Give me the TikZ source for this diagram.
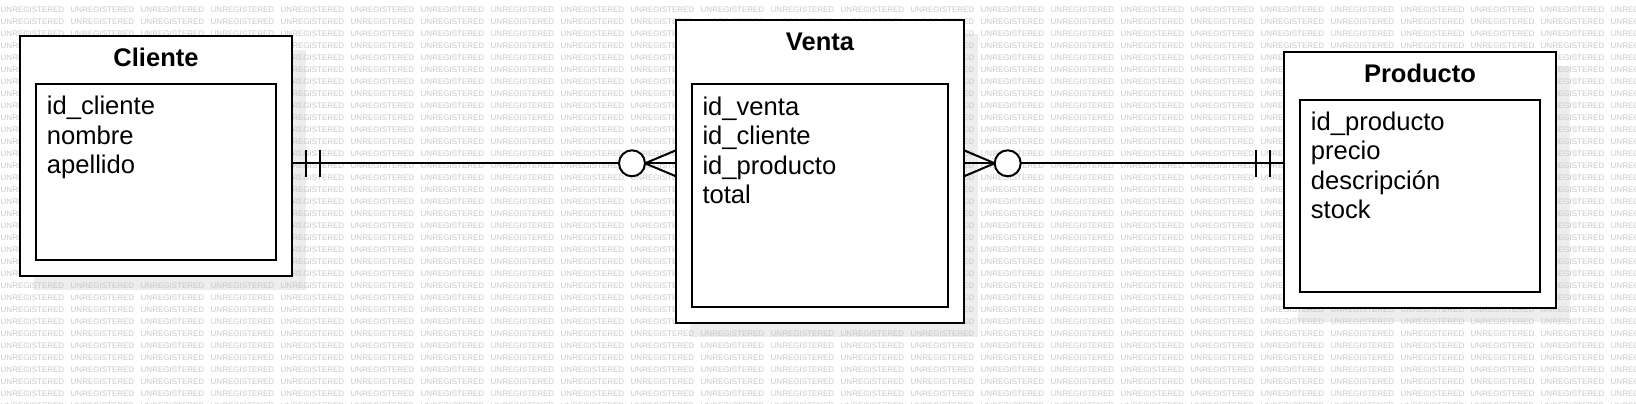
\documentclass[tikz,border=0pt]{standalone}
\usepackage{fontspec}
\setmainfont{Liberation Sans}
\usetikzlibrary{positioning,calc,backgrounds}

\tikzset{
  entity/.style={draw, line width=2pt, fill=white, inner sep=0pt, outer sep=0pt},
  fieldbox/.style={draw, line width=2pt, fill=white, inner sep=0pt, outer sep=0pt},
  entname/.style={font=\fontsize{25.5}{29.5}\selectfont\bfseries, inner sep=0pt},
  fields/.style={font=\fontsize{25.6}{29.5}\selectfont, align=left, anchor=north west, inner sep=0pt},
  optional/.style={circle, draw, line width=2pt, fill=white, minimum size=26pt, inner sep=0pt, outer sep=0pt},
  link/.style={line width=2pt},
  boxshadow/.style={fill=black!7, draw=none},
  wmark/.style={font=\fontsize{8}{8}\selectfont, text=black!22, inner sep=0pt, anchor=west},
}

\begin{document}
\begin{tikzpicture}[x=1pt, y=-1pt]
      \useasboundingbox (0,0) rectangle (1636,404);
      %
      \node[entity, minimum width=272pt, minimum height=240pt] (cliente) at (156,156) {};      % entities
      \node[entity, minimum width=288pt, minimum height=303pt] (venta) at (820,171.5) {};
      \node[entity, minimum width=272pt, minimum height=255.4pt] (producto) at (1420,180) {};
      %
      \node[fieldbox, minimum width=240pt, minimum height=176pt] (cliente-in) at (156,172) {};   % inner boxes
      \node[fieldbox, minimum width=256pt, minimum height=223pt] (venta-in) at (820,195.5) {};
      \node[fieldbox, minimum width=240pt, minimum height=191.7pt] (producto-in) at (1420,195.8) {};
      %
      \node[entname] (cliente-name) at (156,57.7) {Cliente};                 % titles
      \node[entname] (venta-name) at (820,42.3) {Venta};
      \node[entname] (producto-name) at (1420,73.3) {Producto};
      %
      \node[fields] (cliente-fields) at (46.7,96) {id\_cliente\\nombre\\apellido};   % fields
      \node[fields] (venta-fields) at (702.3,96.5) {id\_venta\\id\_cliente\\id\_producto\\total};
      \node[fields] (producto-fields) at (1310.7,111.5) {id\_producto\\precio\\descripción\\stock};
      %
      \coordinate (row) at (0,163.3);                                         % link height
      %
      \draw[link] (cliente.east |- row) -- (venta.west |- row);               % cliente -- venta
      \draw[link] ($(cliente.east |- row)+(13.7,-13.5)$) -- ++(0,27);
      \draw[link] ($(cliente.east |- row)+(28,-13.5)$) -- ++(0,27);
      \node[optional] (cv-zero) at ($(venta.west |- row)+(-44,0)$) {};
      \draw[link] (cv-zero.east) -- ($(venta.west |- row)+(0,-13)$);
      \draw[link] (cv-zero.east) -- ($(venta.west |- row)+(0,13)$);
      %
      \draw[link] (venta.east |- row) -- (producto.west |- row);              % venta -- producto
      \node[optional] (vp-zero) at ($(venta.east |- row)+(43.7,0)$) {};
      \draw[link] (vp-zero.west) -- ($(venta.east |- row)+(0,-13)$);
      \draw[link] (vp-zero.west) -- ($(venta.east |- row)+(0,13)$);
      \draw[link] ($(producto.west |- row)+(-28.3,-13.5)$) -- ++(0,27);
      \draw[link] ($(producto.west |- row)+(-14,-13.5)$) -- ++(0,27);
      %
      \begin{scope}[on background layer]
        \fill[boxshadow] ($(cliente.north west)+(14,14)$) rectangle ($(cliente.south east)+(14,14)$);   % shadows
        \fill[boxshadow] ($(venta.north west)+(14,14)$) rectangle ($(venta.south east)+(14,14)$);
        \fill[boxshadow] ($(producto.north west)+(14,14)$) rectangle ($(producto.south east)+(14,14)$);
        %
        \clip (0,0) rectangle (1636,404);                                     % watermark
        \foreach \r in {0,...,33}
          \foreach \c in {0,...,23}
            \node[wmark] (wm-\r-\c) at (70*\c+0.5, 9.5+12*\r) {UNREGISTERED};
      \end{scope}
      %
    \end{tikzpicture}
\end{document}
